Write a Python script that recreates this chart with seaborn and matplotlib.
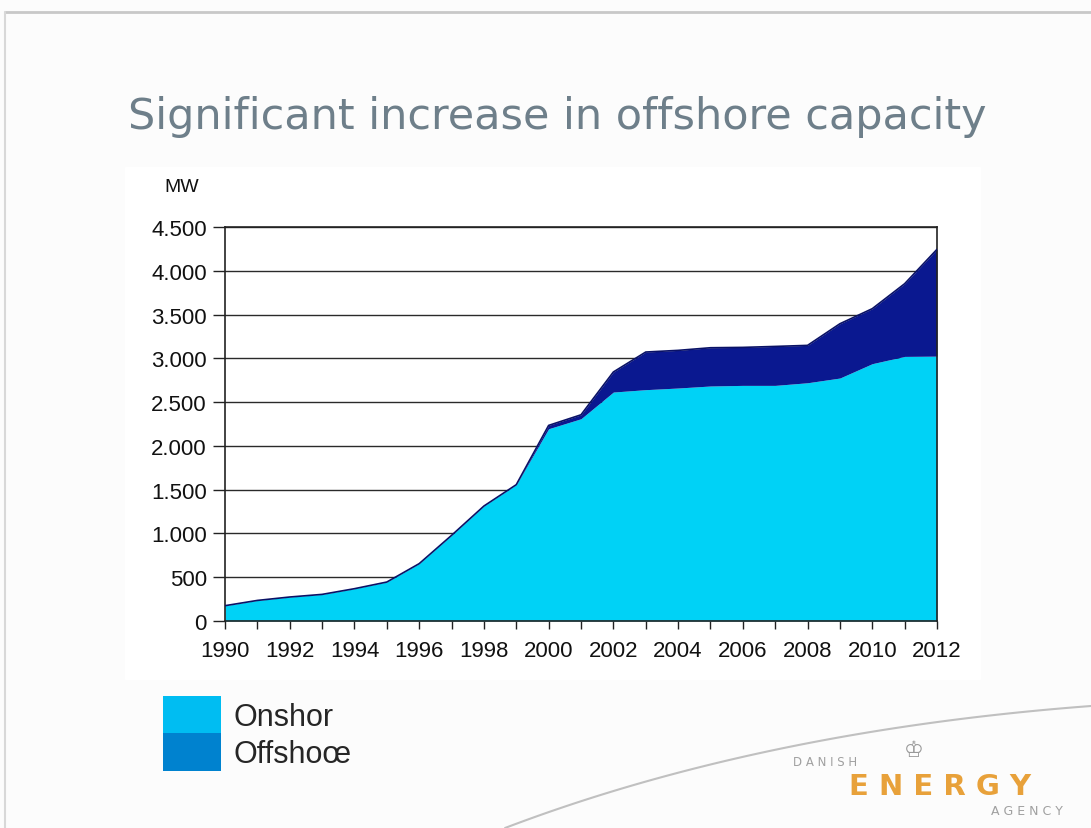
import numpy as np
import pandas as pd
import seaborn as sns
import matplotlib.pyplot as plt
from matplotlib.patches import Patch
from matplotlib.ticker import FuncFormatter, MultipleLocator

# Installed wind capacity in Denmark (MW)
years = list(range(1990, 2013))
onshore = [175, 235, 274, 304, 369, 445, 655, 978, 1313, 1557, 2196, 2310,
           2615, 2642, 2661, 2684, 2691, 2691, 2721, 2775, 2939, 3022, 3025]
offshore = [0, 0, 0, 0, 0, 0, 0, 0, 0, 0, 38, 45,
            229, 430, 430, 437, 434, 445, 427, 620, 628, 830, 1220]

title = 'Significant increase in offshore capacity'
legend_labels = ['Onshor', 'Offshoœ']

df = pd.DataFrame({'year': years, 'onshore': onshore, 'offshore': offshore})
df['total'] = df['onshore'] + df['offshore']

sns.set_theme(style='white')
plt.rcParams['font.family'] = ['Liberation Sans', 'DejaVu Sans']

W, H = 1091, 829
fig = plt.figure(figsize=(W / 100, H / 100), dpi=100, facecolor='#fcfcfc')

# slide decoration in pixel coordinates
bg = fig.add_axes([0, 0, 1, 1])
bg.set_xlim(0, W)
bg.set_ylim(H, 0)
bg.axis('off')
bg.plot([5, W], [13, 13], color='#c8c8c8', lw=2)
bg.plot([5, 5], [13, H], color='#d8d8d8', lw=1.5)
bg.add_patch(plt.Rectangle((125, 168), 855, 512, color='white', zorder=0))
t = np.linspace(0, 1, 100)
cx = (1 - t) ** 2 * 505 + 2 * (1 - t) * t * 760 + t ** 2 * 1091
cy = (1 - t) ** 2 * 829 + 2 * (1 - t) * t * 732 + t ** 2 * 707
bg.plot(cx, cy, color='#c0c0c0', lw=1.5)

# logo
bg.text(825, 762, 'D A N I S H', color='#a0a0a0', fontsize=8.5, ha='center', va='center',
        family='DejaVu Sans')
bg.text(914, 751, '♔', color='#999999', fontsize=16, ha='center', va='center',
        family='DejaVu Sans')
bg.text(940, 787, 'E N E R G Y', color='#e8a13a', fontsize=21, fontweight='bold',
        ha='center', va='center', family='DejaVu Sans')
bg.text(1027, 812, 'A G E N C Y', color='#a0a0a0', fontsize=9, ha='center', va='center',
        family='DejaVu Sans')

fig.text(557 / W, 1 - 117 / H, title, color='#6e7f8a', fontsize=31,
         ha='center', va='center', family='DejaVu Sans')

ax = fig.add_axes([225 / W, 1 - 622 / H, 712 / W, 394 / H])
ax.set_facecolor('white')

ax.fill_between(df['year'], 0, df['onshore'], color='#00d2f6', lw=0, zorder=2)
ax.fill_between(df['year'], df['onshore'], df['total'], color='#0a1890', lw=0, zorder=2)
sns.lineplot(data=df, x='year', y='total', ax=ax, color='#0a1266', lw=1.2, zorder=3)

ax.set_xlim(1990, 2012)
ax.set_ylim(0, 4500)
ax.yaxis.set_major_locator(MultipleLocator(500))
ax.xaxis.set_major_locator(MultipleLocator(2))
ax.xaxis.set_minor_locator(MultipleLocator(1))
ax.yaxis.set_major_formatter(FuncFormatter(lambda v, p: f'{int(v):,}'.replace(',', '.')))
ax.grid(axis='y', color='#2a2a2a', lw=1, zorder=1)
ax.set_axisbelow(True)

for s in ax.spines.values():
    s.set_color('#222222')
    s.set_linewidth(1.2)
ax.tick_params(axis='both', which='both', direction='out', color='#222222',
               labelsize=16, labelcolor='#111111')
ax.tick_params(axis='x', which='both', length=6, width=1, bottom=True, pad=8)
ax.tick_params(axis='y', length=9, width=1, left=True, pad=4)
ax.set_xlabel('')
ax.set_ylabel('')

fig.text(182 / W, 1 - 188 / H, 'MW', fontsize=14, ha='center', va='center', color='#111111')

handles = [Patch(facecolor='#00bdf2', edgecolor='none'),
           Patch(facecolor='#0082cf', edgecolor='none')]
fig.legend(handles, legend_labels, loc='upper left',
           bbox_to_anchor=(163 / W, 1 - 697 / H), frameon=False,
           fontsize=22, handlelength=1.9, handleheight=1.5,
           labelspacing=0, handletextpad=0.4, borderpad=0, borderaxespad=0)

plt.savefig('out.png', dpi=100, facecolor=fig.get_facecolor())
